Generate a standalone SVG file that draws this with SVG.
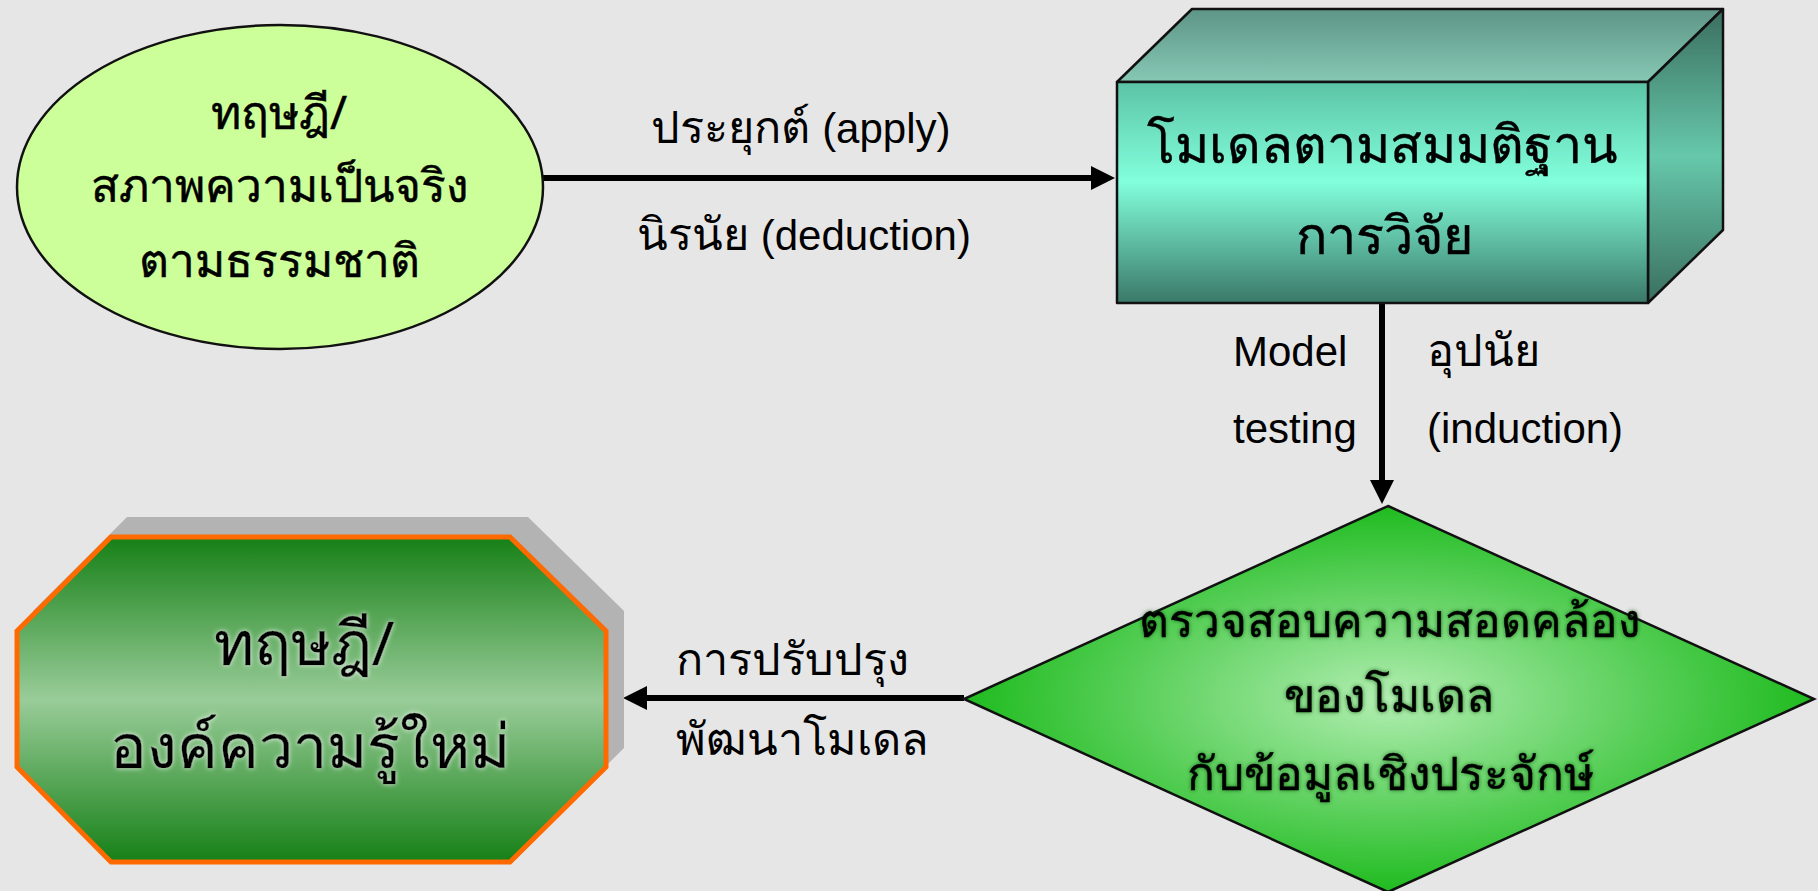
<svg xmlns="http://www.w3.org/2000/svg" width="1818" height="891" viewBox="0 0 1818 891">
<defs>
<style>
.t{font-family:"Noto Sans","DejaVu Sans",sans-serif;fill:#000;text-anchor:middle;stroke:#000;stroke-width:0.5}
.l{font-family:"Liberation Sans","Noto Sans",sans-serif;font-size:42px;fill:#000}
.th{font-family:"Noto Sans","DejaVu Sans",sans-serif;font-size:45px}
.edge{stroke:#000;stroke-width:6;fill:none}
.ol{stroke:#111;stroke-width:2.5;stroke-linejoin:round}
</style>
<marker id="ah" markerUnits="userSpaceOnUse" markerWidth="26" markerHeight="26" refX="0" refY="13" orient="auto" viewBox="0 0 26 26">
<path d="M0,1 L24,13 L0,25 Z" fill="#000"/>
</marker>
<linearGradient id="gFront" x1="0" y1="0" x2="0" y2="1">
<stop offset="0" stop-color="#5cc4a6"/>
<stop offset="0.45" stop-color="#82ffdc"/>
<stop offset="1" stop-color="#3a7868"/>
</linearGradient>
<linearGradient id="gTop" x1="0" y1="0" x2="0" y2="1">
<stop offset="0" stop-color="#5e9586"/>
<stop offset="1" stop-color="#86c8b4"/>
</linearGradient>
<linearGradient id="gSide" x1="0" y1="0" x2="0" y2="1">
<stop offset="0" stop-color="#3b6e5f"/>
<stop offset="0.5" stop-color="#66c8aa"/>
<stop offset="1" stop-color="#3a6e5e"/>
</linearGradient>
<radialGradient id="gDia" cx="0.5" cy="0.5" r="0.5">
<stop offset="0" stop-color="#b2eeb2"/>
<stop offset="1" stop-color="#1fbb1f"/>
</radialGradient>
<linearGradient id="gOct" x1="0" y1="0" x2="0" y2="1">
<stop offset="0" stop-color="#168016"/>
<stop offset="0.5" stop-color="#99cc99"/>
<stop offset="1" stop-color="#168016"/>
</linearGradient>
<filter id="glow" x="-10%" y="-30%" width="120%" height="160%">
<feGaussianBlur in="SourceAlpha" stdDeviation="2.5" result="b"/>
<feFlood flood-color="#ffffff" flood-opacity="0.8"/>
<feComposite in2="b" operator="in" result="s"/>
<feMerge><feMergeNode in="s"/><feMergeNode in="SourceGraphic"/></feMerge>
</filter>
<filter id="dglow" x="-10%" y="-30%" width="120%" height="160%">
<feGaussianBlur in="SourceAlpha" stdDeviation="2" result="b"/>
<feFlood flood-color="#0a4a0a" flood-opacity="0.7"/>
<feComposite in2="b" operator="in" result="s"/>
<feMerge><feMergeNode in="s"/><feMergeNode in="SourceGraphic"/></feMerge>
</filter>
</defs>
<rect width="1818" height="891" fill="#e6e6e6"/>

<g id="connectors">
<line class="edge" x1="541" y1="178" x2="1091" y2="178" marker-end="url(#ah)"/>
<line class="edge" x1="1382" y1="304" x2="1382" y2="480" marker-end="url(#ah)"/>
<line class="edge" x1="964" y1="698" x2="647" y2="698" marker-end="url(#ah)"/>
<text class="l" x="801" y="143" text-anchor="middle"><tspan class="th">ประยุกต์</tspan> (apply)</text>
<text class="l" x="804" y="250" text-anchor="middle"><tspan class="th">นิรนัย</tspan> (deduction)</text>
<text class="l" x="1233" y="366">Model</text>
<text class="l" x="1233" y="443">testing</text>
<text class="l" x="1427" y="366"><tspan class="th">อุปนัย</tspan></text>
<text class="l" x="1427" y="443">(induction)</text>
<text class="l" x="676" y="675"><tspan class="th">การปรับปรุง</tspan></text>
<text class="l" x="676" y="755"><tspan class="th">พัฒนาโมเดล</tspan></text>
</g>

<g id="node-theory">
<ellipse cx="280" cy="187" rx="263" ry="162" fill="#ccff99" stroke="#111" stroke-width="2.5"/>
<text class="t" x="279" y="129" font-size="46">ทฤษฎี/</text>
<text class="t" x="279" y="202" font-size="46">สภาพความเป็นจริง</text>
<text class="t" x="279" y="277" font-size="46">ตามธรรมชาติ</text>
</g>

<g id="node-model">
<polygon class="ol" points="1117,82 1192,9 1723,9 1648,82" fill="url(#gTop)"/>
<polygon class="ol" points="1648,82 1723,9 1723,230 1648,303" fill="url(#gSide)"/>
<rect class="ol" x="1117" y="82" width="531" height="221" fill="url(#gFront)"/>
<text class="t" x="1382" y="163" font-size="52">โมเดลตามสมมติฐาน</text>
<text class="t" x="1384" y="254" font-size="52">การวิจัย</text>
</g>

<g id="node-check">
<polygon points="1388,506 1814,699 1388,892 964,699" fill="url(#gDia)" stroke="#111" stroke-width="2.5"/>
<g filter="url(#dglow)">
<text class="t" x="1389" y="637" font-size="46">ตรวจสอบความสอดคล้อง</text>
<text class="t" x="1389" y="712" font-size="46">ของโมเดล</text>
<text class="t" x="1390" y="790" font-size="46">กับข้อมูลเชิงประจักษ์</text>
</g>
</g>

<g id="node-new">
<polygon points="127,517 528,517 624,611 624,748 528,843 127,843 33,748 33,611" fill="#b3b3b3"/>
<polygon points="111,537 510,537 606,631 606,767 510,862 111,862 17,767 17,631" fill="url(#gOct)" stroke="#ff6a00" stroke-width="5" stroke-linejoin="miter"/>
<g filter="url(#glow)">
<text class="t" x="304" y="665" font-size="61">ทฤษฎี/</text>
<text class="t" x="310" y="768" font-size="61">องค์ความรู้ใหม่</text>
</g>
</g>
</svg>
